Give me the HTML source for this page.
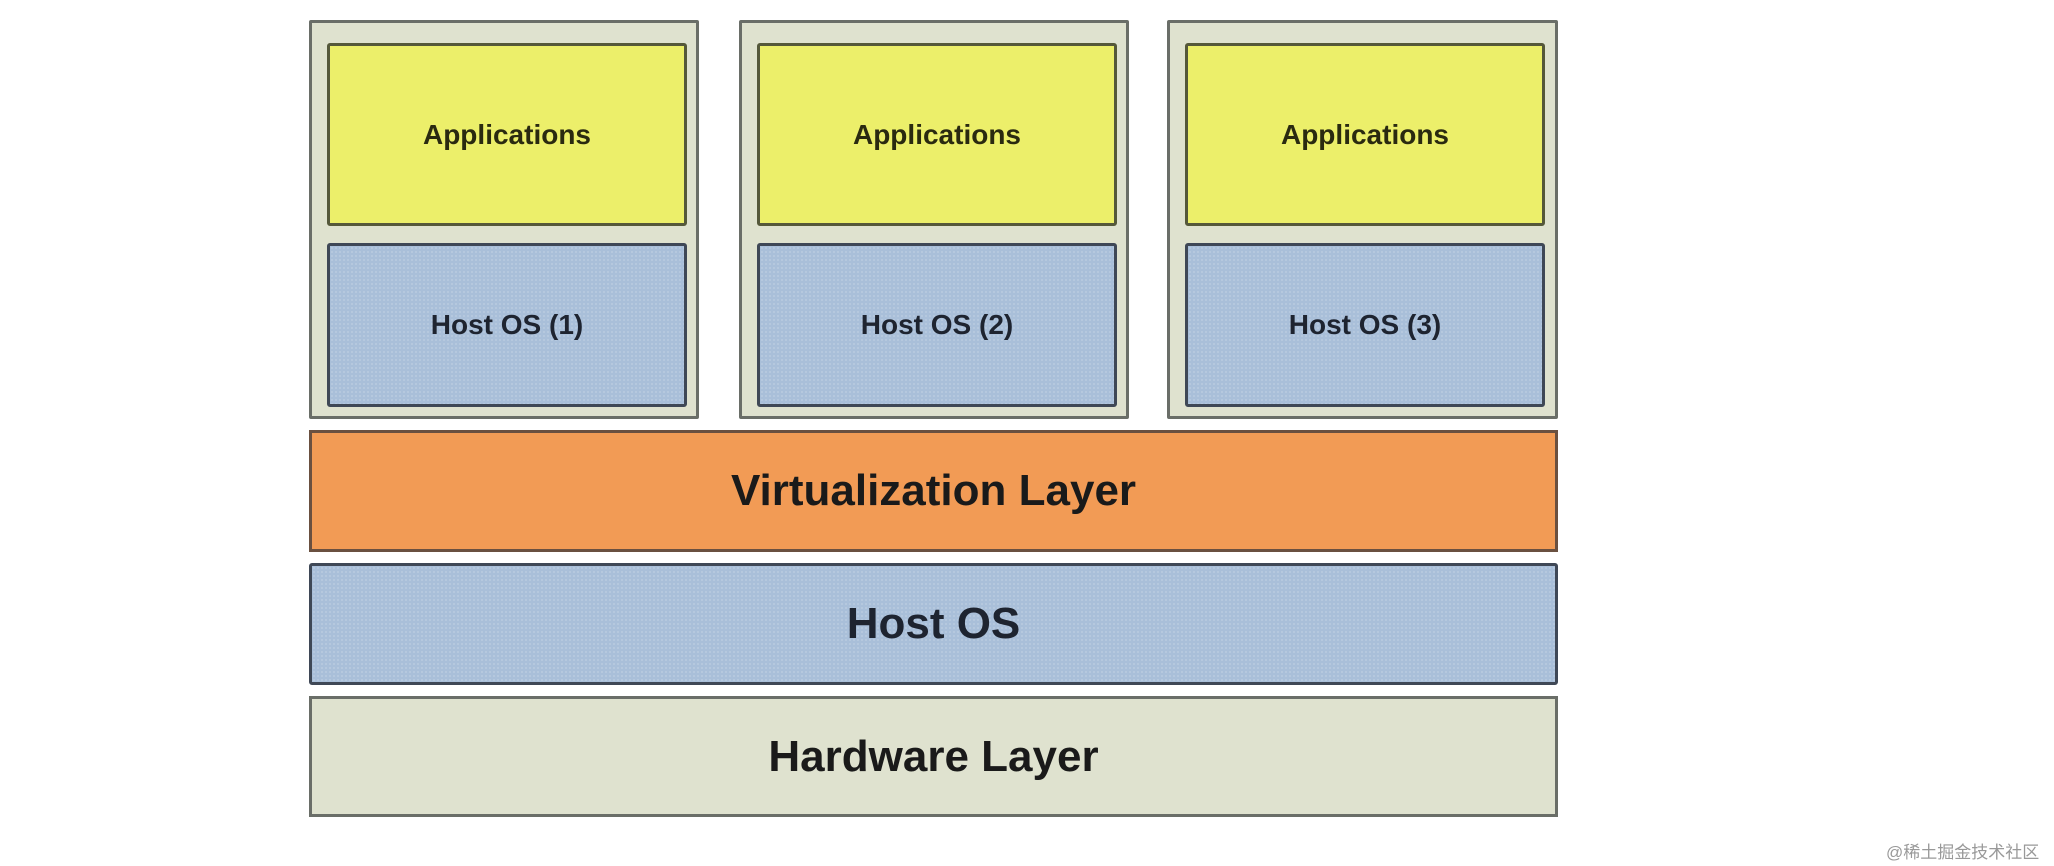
<!DOCTYPE html>
<html><head><meta charset="utf-8"><style>
body{margin:0;width:2054px;height:866px;background:#fff;position:relative;overflow:hidden;font-family:"Liberation Sans",Arial,sans-serif;font-weight:bold;color:#222}
.b{position:absolute;box-sizing:border-box;display:flex;align-items:center;justify-content:center}
.o{background:#dfe2cf;border:3px solid #6a6e68;border-radius:2px}
.a{background:#ecef6a;border:3px solid #55583a;border-radius:3px;font-size:28px;color:#2a2a10}
.h{background:#a9bfd9;border:3px solid #3f4856;border-radius:3px;font-size:28px;color:#1e2430;background-image:radial-gradient(#b9cbe0 1px,transparent 1px);background-size:4px 4px}
</style></head><body>
<div class="b o" style="left:309px;top:20px;width:390px;height:399px"></div>
<div class="b o" style="left:739px;top:20px;width:390px;height:399px"></div>
<div class="b o" style="left:1167px;top:20px;width:391px;height:399px"></div>
<div class="b a" style="left:327px;top:43px;width:360px;height:183px">Applications</div>
<div class="b a" style="left:757px;top:43px;width:360px;height:183px">Applications</div>
<div class="b a" style="left:1185px;top:43px;width:360px;height:183px">Applications</div>
<div class="b h" style="left:327px;top:243px;width:360px;height:164px">Host OS (1)</div>
<div class="b h" style="left:757px;top:243px;width:360px;height:164px">Host OS (2)</div>
<div class="b h" style="left:1185px;top:243px;width:360px;height:164px">Host OS (3)</div>
<div class="b" style="left:309px;top:430px;width:1249px;height:122px;background:#f29b55;border:3px solid #6a5040;font-size:44px;color:#1a1a1a">Virtualization Layer</div>
<div class="b h" style="left:309px;top:563px;width:1249px;height:122px;font-size:44px">Host OS</div>
<div class="b" style="left:309px;top:696px;width:1249px;height:121px;background:#dfe2cf;border:3px solid #6a6e68;font-size:44px;color:#1a1a1a">Hardware Layer</div>
<div style="position:absolute;left:1886px;top:838px;font-size:17px;font-weight:normal;color:#999;font-family:'Liberation Sans','Noto Sans CJK SC',sans-serif">@稀土掘金技术社区</div>
</body></html>
